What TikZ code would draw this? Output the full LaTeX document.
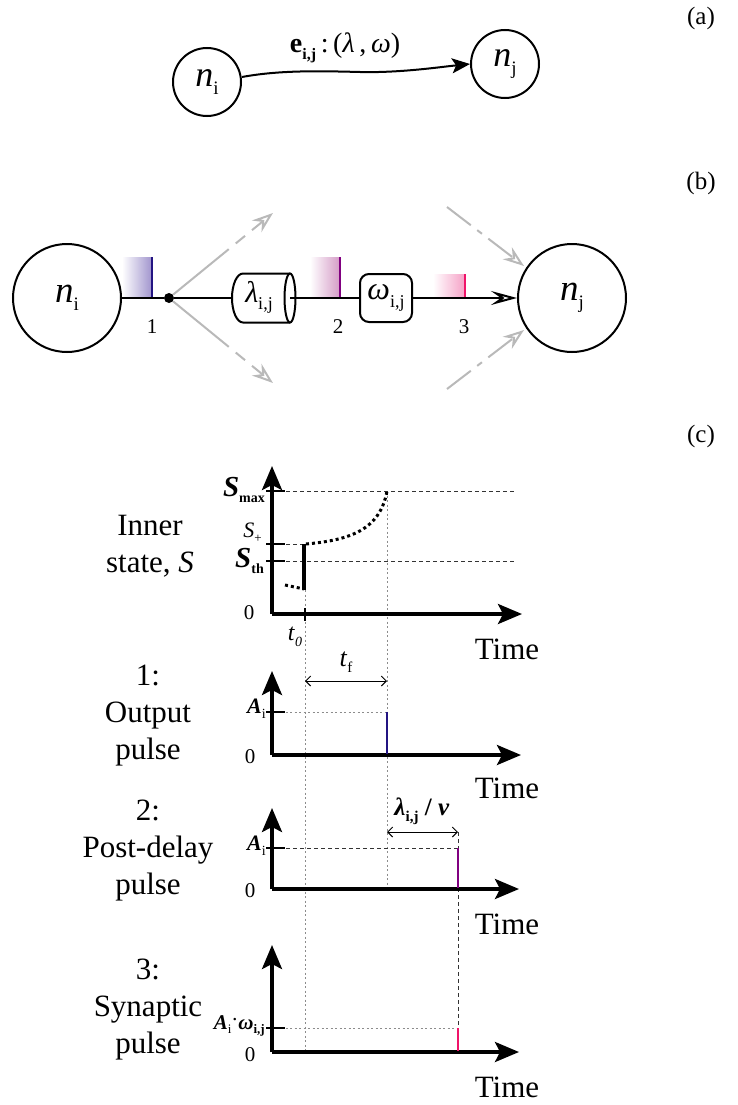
\documentclass[tikz,border=0pt]{standalone}
\usepackage{fontspec}
\setmainfont{Liberation Serif}
\usetikzlibrary{arrows.meta,calc}

\newcommand\fs[1]{\fontsize{#1}{#1}\selectfont}
\newcommand\fsb[2]{\fontsize{#1}{#2}\selectfont}
\newcommand\dn[2]{\raisebox{-0.5ex}{\fs{#1}#2}}

\definecolor{pulseA}{RGB}{35,20,130}
\definecolor{shadeA}{RGB}{160,148,205}
\definecolor{pulseB}{RGB}{128,0,128}
\definecolor{shadeB}{RGB}{212,155,198}
\definecolor{pulseC}{RGB}{240,20,105}
\definecolor{shadeC}{RGB}{245,160,198}
\definecolor{ghost}{RGB}{185,185,185}
\definecolor{guide}{RGB}{140,140,140}

\tikzset{
  neuron/.style={circle,draw,line width=2pt,inner sep=0pt},
  wire/.style={line width=2pt},
  axis/.style={line width=3.4pt,-{Stealth[length=24pt,width=20pt,inset=5pt]}},
  tick/.style={line width=2.4pt},
  guidedot/.style={guide,line width=1pt,dash pattern=on 2pt off 2.5pt},
  guidedash/.style={black!80,line width=0.8pt,dash pattern=on 4pt off 3pt},
  ghostarrow/.style={ghost,line width=2pt,-{Stealth[open,length=21pt,width=15pt,inset=7pt]}},
  lbl/.style={inner sep=0pt,font=\fs{31}},
  side/.style={inner sep=0pt,align=center,font=\fsb{31}{37}},
  small/.style={inner sep=0pt,font=\fs{21}},
}

\begin{document}
\begin{tikzpicture}[x=1pt,y=-1pt]
\useasboundingbox (0,0) rectangle (738,1105);

% ---------------- (a) edge between two neurons ----------------
\node[lbl,font=\fs{25}] (la) at (701,18) {(a)};
\node[neuron,minimum size=68pt] (ai) at (207,82) {\fs{36}\textit{n}\dn{19}{i}};
\node[neuron,minimum size=68pt] (aj) at (505,64) {\fs{36}\textit{n}\dn{19}{j}};
\draw[wire,-{Stealth[length=18pt,width=15pt,inset=4pt]}]
  (ai.east) ++(0,-5) .. controls (280,70) and (320,71) .. (360,72)
  .. controls (400,73) and (440,67) .. (aj.west);
\node[inner sep=0pt] (elab) at (345,48)
  {\fs{28}\textbf{e}\dn{16}{\textbf{i,j}}\,:\,(\textit{λ}\,,\,\textit{ω})};

% ---------------- (b) signal path along the edge ----------------
\node[lbl,font=\fs{25}] (lb) at (701,183) {(b)};
\node[neuron,minimum size=108pt] (bi) at (67,298) {\fs{37}\textit{n}\dn{19}{i}};
\node[neuron,minimum size=108pt] (bj) at (572,298) {\fs{37}\textit{n}\dn{19}{j}};

% pulse traces
\shade[left color=white,right color=shadeA] (122,257) rectangle (152,298);
\draw[pulseA,line width=2.2pt] (152,257) -- (152,298);
\shade[left color=white,right color=shadeB] (310,257) rectangle (340,298);
\draw[pulseB,line width=2.2pt] (340,257) -- (340,298);
\shade[left color=white,right color=shadeC] (433,274) rectangle (465,298);
\draw[pulseC,line width=2.2pt] (465,274) -- (465,298);

\node[small] (n1) at (152,327) {1};
\node[small] (n2) at (338,327) {2};
\node[small] (n3) at (464,327) {3};

% branch point
\node[circle,fill,inner sep=0pt,minimum size=10pt] (dot) at (169,298) {};

% delay line (cylinder)
\node[inner sep=0pt] (lam) at (259,297) {\fs{30}\textit{λ}\dn{18}{i,j}};
\coordinate (cylL) at (232,298);
\coordinate (cylR) at (290,298);
\draw[wire] (290,273.5) -- (243,273.5)
  arc[start angle=270,end angle=90,x radius=11,y radius=24.5] -- (290,322.5);
\draw[wire] (cylR) ellipse[x radius=5.5,y radius=24.5];

% synaptic weight
\node[draw,wire,rounded corners=9pt,minimum width=52pt,minimum height=48pt,inner sep=0pt]
  (om) at (386,298) {\fs{32}\textit{ω}\dn{18}{i,j}};

% main path
\draw[wire] (bi.east) -- (dot);
\draw[wire] (dot) -- (cylL);
\draw[wire] (cylR) -- (om.west);
\draw[wire,-{Stealth[open,length=26pt,width=14pt,inset=10pt]}] (om.east) -- (bj.west);

% other branches in and out
\coordinate (oUp) at (273,213);
\coordinate (oDn) at (273,383);
\coordinate (iUp) at (447,207);
\coordinate (iDn) at (447,389);
\coordinate (jUp) at (524,266);
\coordinate (jDn) at (524,330);
\draw[ghostarrow,dash pattern=on 72pt off 9pt on 12pt off 9pt] (dot) -- (oUp);
\draw[ghostarrow,dash pattern=on 72pt off 9pt on 12pt off 9pt] (dot) -- (oDn);
\draw[ghostarrow,dash pattern=on 30pt off 8pt on 6pt off 8pt] (iUp) -- (jUp);
\draw[ghostarrow,dash pattern=on 30pt off 8pt on 6pt off 8pt] (iDn) -- (jDn);

% ---------------- (c) time course ----------------
\node[lbl,font=\fs{25}] (lc) at (701,436) {(c)};

% vertical guides shared by all plots
\draw[guidedot] (305,590) -- (305,1052);
\draw[guidedot] (387,491) -- (387,889);
\draw[guidedash] (458,832) -- (458,1052);

% inner state
\node[side] (tS) at (150,546) {Inner\\state, \textit{S}};
\draw[guidedash] (272,491) -- (515,491);
\draw[guidedash] (272,561) -- (515,561);
\draw[guidedash] (272,544) -- (305,544);
\draw[axis] (272,614) -- (272,466);
\draw[axis] (272,614) -- (522,614);
\draw[tick] (266,491) -- (285,491);
\draw[tick] (266,544) -- (285,544);
\draw[tick] (266,561) -- (285,561);
\draw[line width=1.8pt] (305,608) -- (305,621);
\node[inner sep=0pt,anchor=east] (sMax) at (265,490) {\fs{29}\textbf{\textit{S}}\dn{14}{\textbf{max}}};
\node[inner sep=0pt,anchor=east] (sPl) at (262,533) {\fs{22}\textit{S}\dn{13}{+}};
\node[inner sep=0pt,anchor=east] (sTh) at (264,561) {\fs{29}\textbf{\textit{S}}\dn{14}{\textbf{th}}};
\node[small] (z0) at (249,613) {0};
\node[inner sep=0pt] (t0) at (295,637) {\fs{24}\textit{t}\dn{14}{\textit{0}}};
\node[lbl] (time0) at (507,649) {Time};
\draw[line width=3pt,dash pattern=on 3pt off 3pt] (285,585) -- (304,589);
\draw[line width=3.2pt] (304,590) -- (304,544);
\draw[line width=3pt,dash pattern=on 3pt off 3pt]
  (306,544) .. controls (350,540) and (380,530) .. (387,491);

% 1: output pulse
\node[side] (t1) at (148,716) {1:\\Output\\pulse};
\draw[guidedot] (272,712) -- (387,712);
\draw[axis] (272,755) -- (272,671);
\draw[axis] (272,755) -- (521,755);
\draw[tick] (266,712) -- (285,712);
\draw[pulseA,line width=2.8pt] (387,712) -- (387,754);
\node[inner sep=0pt,anchor=east] (a1) at (266,709) {\fs{22}\textbf{\textit{A}}\dn{14}{i}};
\node[small] (z1) at (250,757) {0};
\draw[line width=1pt,{Straight Barb[length=5pt]}-{Straight Barb[length=5pt]}] (305,681) -- (387,681);
\node[inner sep=0pt] (tf) at (346,662) {\fs{26}\textit{t}\dn{15}{f}};
\node[lbl] (time1) at (507,788) {Time};

% 2: post-delay pulse
\node[side] (t2) at (148,851) {2:\\Post-delay\\pulse};
\draw[guidedash] (272,848) -- (458,848);
\draw[axis] (272,889) -- (272,808);
\draw[axis] (272,889) -- (519,889);
\draw[tick] (266,848) -- (285,848);
\draw[pulseB,line width=2.8pt] (458,848) -- (458,888);
\node[inner sep=0pt,anchor=east] (a2) at (266,846) {\fs{22}\textbf{\textit{A}}\dn{14}{i}};
\node[small] (z2) at (250,891) {0};
\draw[line width=1pt,{Straight Barb[length=5pt]}-{Straight Barb[length=5pt]}] (387,832) -- (458,832);
\node[inner sep=0pt] (lv) at (422,811)
  {\fs{25}\textbf{\textit{λ}}\dn{15}{\textbf{i,j}}\ \textbf{/}\ \textbf{\textit{v}}};
\node[lbl] (time2) at (507,924) {Time};

% 3: synaptic pulse
\node[side] (t3) at (148,1010) {3:\\Synaptic\\pulse};
\draw[guidedot] (272,1028) -- (458,1028);
\draw[axis] (272,1052) -- (272,945);
\draw[axis] (272,1052) -- (519,1052);
\draw[tick] (266,1028) -- (285,1028);
\draw[pulseC,line width=2.8pt] (458,1028) -- (458,1051);
\node[inner sep=0pt,anchor=east] (a3) at (265,1026)
  {\fs{21}\textbf{\textit{A}}\dn{13}{i}\raisebox{0.3ex}{·}\textbf{\textit{ω}}\dn{13}{\textbf{i,j}}};
\node[small] (z3) at (250,1055) {0};
\node[lbl] (time3) at (507,1087) {Time};
\end{tikzpicture}
\end{document}
